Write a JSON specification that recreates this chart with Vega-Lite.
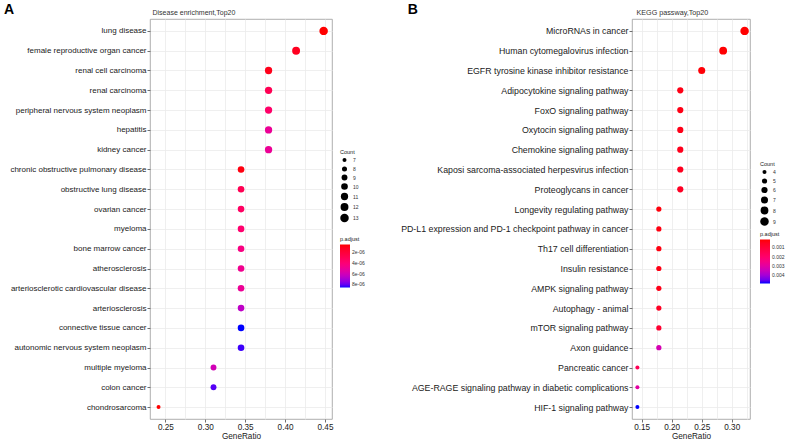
{
  "$schema": "https://vega.github.io/schema/vega-lite/v6.json",
  "padding": {"left": 3, "top": 2, "right": 0, "bottom": 0},
  "bounds": "flush",
  "spacing": 300,
  "resolve": {"scale": {"color": "independent", "size": "independent"}, "legend": {"color": "independent", "size": "independent"}},
  "config": {
    "font": "Liberation Sans",
    "view": {"stroke": "#9a9a9a", "strokeWidth": 0.8},
    "axis": {"grid": true, "gridColor": "#ebebeb", "gridWidth": 0.8, "domain": false, "tickColor": "#333333", "tickSize": 3, "tickWidth": 0.7, "labelFontSize": 8.2, "labelColor": "#1a1a1a", "labelPadding": 1, "labelLimit": 300, "titleFontSize": 8.2, "titleFontWeight": "normal", "titleColor": "#1a1a1a", "titlePadding": 2},
    "legend": {"titleFontWeight": "normal", "titleFontSize": 5.5, "labelFontSize": 5, "titleColor": "#222222", "labelColor": "#333333", "titlePadding": 2}
  },
  "datasets": {
    "disease": [
      {"term": "lung disease", "GeneRatio": 0.4483, "Count": 13, "padj": 5e-07},
      {"term": "female reproductive organ cancer", "GeneRatio": 0.4138, "Count": 12, "padj": 1.15e-06},
      {"term": "renal cell carcinoma", "GeneRatio": 0.3793, "Count": 11, "padj": 1.0e-06},
      {"term": "renal carcinoma", "GeneRatio": 0.3793, "Count": 11, "padj": 2.9e-06},
      {"term": "peripheral nervous system neoplasm", "GeneRatio": 0.3793, "Count": 11, "padj": 3.6e-06},
      {"term": "hepatitis", "GeneRatio": 0.3793, "Count": 11, "padj": 5.0e-06},
      {"term": "kidney cancer", "GeneRatio": 0.3793, "Count": 11, "padj": 5.0e-06},
      {"term": "chronic obstructive pulmonary disease", "GeneRatio": 0.3448, "Count": 10, "padj": 7.5e-07},
      {"term": "obstructive lung disease", "GeneRatio": 0.3448, "Count": 10, "padj": 2.9e-06},
      {"term": "ovarian cancer", "GeneRatio": 0.3448, "Count": 10, "padj": 3.4e-06},
      {"term": "myeloma", "GeneRatio": 0.3448, "Count": 10, "padj": 3.8e-06},
      {"term": "bone marrow cancer", "GeneRatio": 0.3448, "Count": 10, "padj": 4.4e-06},
      {"term": "atherosclerosis", "GeneRatio": 0.3448, "Count": 10, "padj": 4.8e-06},
      {"term": "arteriosclerotic cardiovascular disease", "GeneRatio": 0.3448, "Count": 10, "padj": 5.0e-06},
      {"term": "arteriosclerosis", "GeneRatio": 0.3448, "Count": 10, "padj": 6.5e-06},
      {"term": "connective tissue cancer", "GeneRatio": 0.3448, "Count": 10, "padj": 8.6e-06},
      {"term": "autonomic nervous system neoplasm", "GeneRatio": 0.3448, "Count": 10, "padj": 8.4e-06},
      {"term": "multiple myeloma", "GeneRatio": 0.3103, "Count": 9, "padj": 6.0e-06},
      {"term": "colon cancer", "GeneRatio": 0.3103, "Count": 9, "padj": 8.2e-06},
      {"term": "chondrosarcoma", "GeneRatio": 0.2414, "Count": 7, "padj": 5e-07}
    ],
    "kegg": [
      {"term": "MicroRNAs in cancer", "GeneRatio": 0.3214, "Count": 9, "padj": 0.00014},
      {"term": "Human cytomegalovirus infection", "GeneRatio": 0.2857, "Count": 8, "padj": 0.00016},
      {"term": "EGFR tyrosine kinase inhibitor resistance", "GeneRatio": 0.25, "Count": 7, "padj": 0.0002},
      {"term": "Adipocytokine signaling pathway", "GeneRatio": 0.2143, "Count": 6, "padj": 0.00035},
      {"term": "FoxO signaling pathway", "GeneRatio": 0.2143, "Count": 6, "padj": 0.00035},
      {"term": "Oxytocin signaling pathway", "GeneRatio": 0.2143, "Count": 6, "padj": 0.0004},
      {"term": "Chemokine signaling pathway", "GeneRatio": 0.2143, "Count": 6, "padj": 0.00045},
      {"term": "Kaposi sarcoma-associated herpesvirus infection", "GeneRatio": 0.2143, "Count": 6, "padj": 0.0005},
      {"term": "Proteoglycans in cancer", "GeneRatio": 0.2143, "Count": 6, "padj": 0.0006},
      {"term": "Longevity regulating pathway", "GeneRatio": 0.1786, "Count": 5, "padj": 0.00025},
      {"term": "PD-L1 expression and PD-1 checkpoint pathway in cancer", "GeneRatio": 0.1786, "Count": 5, "padj": 0.0003},
      {"term": "Th17 cell differentiation", "GeneRatio": 0.1786, "Count": 5, "padj": 0.0003},
      {"term": "Insulin resistance", "GeneRatio": 0.1786, "Count": 5, "padj": 0.00035},
      {"term": "AMPK signaling pathway", "GeneRatio": 0.1786, "Count": 5, "padj": 0.0004},
      {"term": "Autophagy - animal", "GeneRatio": 0.1786, "Count": 5, "padj": 0.0006},
      {"term": "mTOR signaling pathway", "GeneRatio": 0.1786, "Count": 5, "padj": 0.00085},
      {"term": "Axon guidance", "GeneRatio": 0.1786, "Count": 5, "padj": 0.0033},
      {"term": "Pancreatic cancer", "GeneRatio": 0.1429, "Count": 4, "padj": 0.0016},
      {"term": "AGE-RAGE signaling pathway in diabetic complications", "GeneRatio": 0.1429, "Count": 4, "padj": 0.003},
      {"term": "HIF-1 signaling pathway", "GeneRatio": 0.1429, "Count": 4, "padj": 0.0049}
    ]
  },
  "hconcat": [
    {
      "width": 182,
      "height": 400,
      "title": {"text": "A", "anchor": "start", "frame": "bounds", "fontSize": 14, "fontWeight": "bold", "color": "#000000", "offset": -4, "dx": -6, "dy": 15, "baseline": "alphabetic"},
      "data": {"name": "disease"},
      "mark": {"type": "circle", "opacity": 1},
      "encoding": {
        "y": {"field": "term", "type": "nominal", "sort": null, "scale": {"type": "point", "padding": 0.6},
          "axis": {"labelFontSize": 8, "title": "Disease enrichment,Top20", "titleAngle": 0, "titleX": 2, "titleY": -4.5, "titleAlign": "left", "titleBaseline": "alphabetic", "titleFontSize": 7, "titleColor": "#333333"}},
        "x": {"field": "GeneRatio", "type": "quantitative", "scale": {"domain": [0.2307, 0.4588], "nice": false, "zero": false},
          "axis": {"title": "GeneRatio", "values": [0.25, 0.275, 0.3, 0.325, 0.35, 0.375, 0.4, 0.425, 0.45],
            "labelExpr": "round(datum.value*1000) % 50 == 0 ? format(datum.value, '.2f') : ''",
            "tickOpacity": {"condition": {"test": "round(datum.value*1000) % 50 != 0", "value": 0}, "value": 1}}},
        "size": {"field": "Count", "type": "quantitative", "scale": {"domain": [7, 13], "range": [16, 72]},
          "legend": {"title": "Count", "orient": "none", "legendX": 190, "legendY": 131, "direction": "vertical", "values": [7, 8, 9, 10, 11, 12, 13], "symbolFillColor": "black", "symbolStrokeWidth": 0, "symbolType": "circle", "rowPadding": 2.5, "labelOffset": 4}},
        "color": {"field": "padj", "type": "quantitative", "scale": {"domain": [8.6e-06, 5e-07], "range": ["#0000ff", "#ff0000"], "interpolate": "hcl"},
          "legend": {"title": "p.adjust", "orient": "none", "legendX": 190, "legendY": 218, "direction": "vertical", "values": [2e-06, 4e-06, 6e-06, 8e-06], "labelExpr": "replace(format(datum.value, '.0e'), 'e-', 'e-0')", "gradientLength": 43, "gradientThickness": 10, "gradientStrokeWidth": 0, "labelOverlap": false}}
      }
    },
    {
      "width": 118,
      "height": 400,
      "title": {"text": "B", "anchor": "start", "frame": "bounds", "fontSize": 14, "fontWeight": "bold", "color": "#000000", "offset": -4, "dx": 7, "dy": 15, "baseline": "alphabetic"},
      "data": {"name": "kegg"},
      "mark": {"type": "circle", "opacity": 1},
      "encoding": {
        "y": {"field": "term", "type": "nominal", "sort": null, "scale": {"type": "point", "padding": 0.6},
          "axis": {"labelFontSize": 8.8, "title": "KEGG passway,Top20", "titleAngle": 0, "titleX": 4, "titleY": -4.5, "titleAlign": "left", "titleBaseline": "alphabetic", "titleFontSize": 7.2, "titleColor": "#333333"}},
        "x": {"field": "GeneRatio", "type": "quantitative", "scale": {"domain": [0.1339, 0.3304], "nice": false, "zero": false},
          "axis": {"title": "GeneRatio", "values": [0.15, 0.175, 0.2, 0.225, 0.25, 0.275, 0.3, 0.325],
            "labelExpr": "round(datum.value*1000) % 50 == 0 ? format(datum.value, '.2f') : ''",
            "tickOpacity": {"condition": {"test": "round(datum.value*1000) % 50 != 0", "value": 0}, "value": 1}}},
        "size": {"field": "Count", "type": "quantitative", "scale": {"domain": [4, 9], "range": [16, 72]},
          "legend": {"title": "Count", "orient": "none", "legendX": 128, "legendY": 143, "direction": "vertical", "values": [4, 5, 6, 7, 8, 9], "symbolFillColor": "black", "symbolStrokeWidth": 0, "symbolType": "circle", "rowPadding": 2.5, "labelOffset": 4}},
        "color": {"field": "padj", "type": "quantitative", "scale": {"domain": [0.0049, 0.00014], "range": ["#0000ff", "#ff0000"], "interpolate": "hcl"},
          "legend": {"title": "p.adjust", "orient": "none", "legendX": 128, "legendY": 213, "direction": "vertical", "values": [0.001, 0.002, 0.003, 0.004], "format": ".3f", "gradientLength": 44, "gradientThickness": 10, "gradientStrokeWidth": 0, "labelOverlap": false}}
      }
    }
  ]
}
